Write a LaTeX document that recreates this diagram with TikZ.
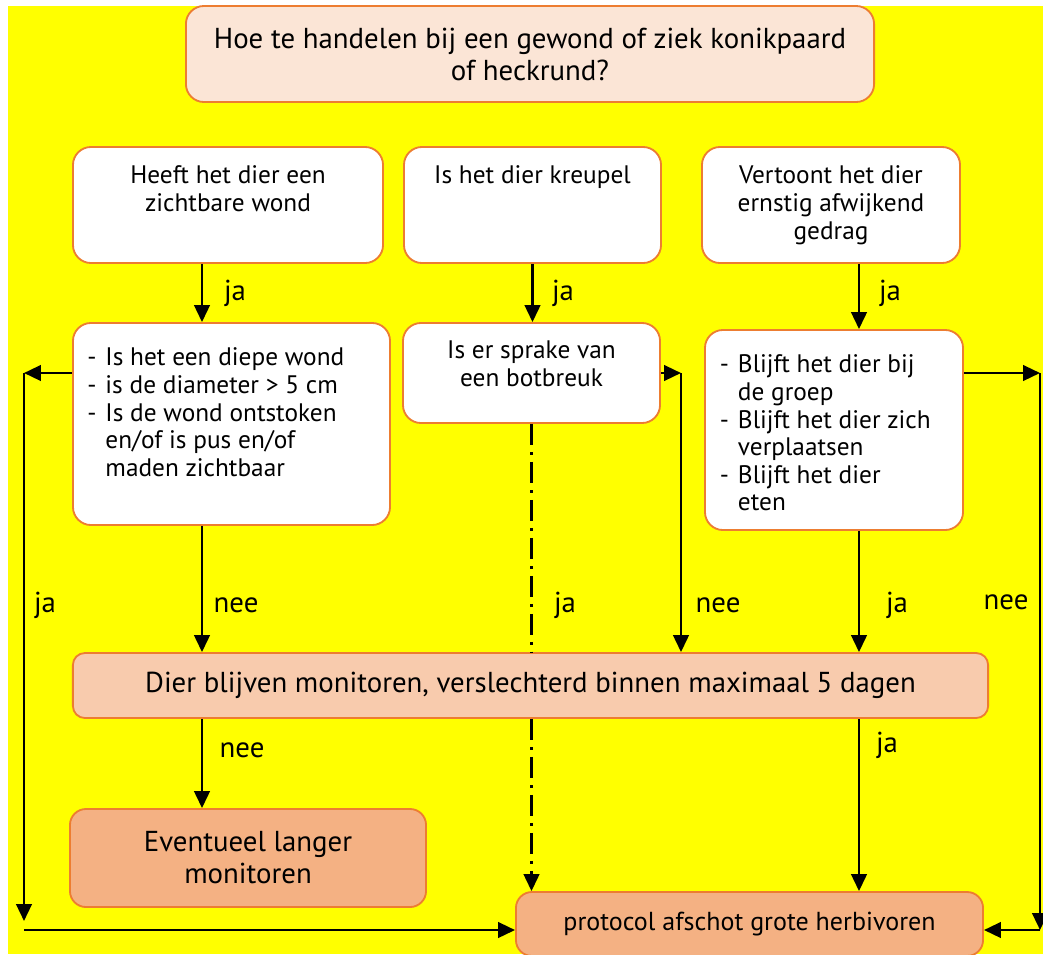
\documentclass[tikz,border=0pt]{standalone}
\usepackage{fontspec}
\setmainfont{PT Sans}
\usetikzlibrary{arrows.meta}
\definecolor{fcyellow}{RGB}{255,255,0}
\definecolor{fcorange}{RGB}{237,125,49}
\definecolor{fclight}{RGB}{251,229,214}
\definecolor{fcmid}{RGB}{248,203,173}
\definecolor{fcdark}{RGB}{244,177,131}
% tekst bovenaan in een vak
\newcommand{\toptext}[3]{\parbox[c][#1][t]{#2}{#3}}
\newcommand{\fcitem}[1]{\par\hangindent=0.45cm\noindent\makebox[0.45cm][l]{-}#1}

\tikzset{
  fcbox/.style={draw=fcorange, line width=1.3pt, rounded corners=0.45cm, inner sep=0pt},
  fcarrow/.style={line width=1.8pt, -{Triangle[length=12pt,width=11pt]}},
  fcdash/.style={line width=1.8pt, dash pattern=on 15pt off 5pt on 2pt off 5pt},
  fclabel/.style={font=\fontsize{20.5}{22}\selectfont},
  fcsmall/.style={font=\fontsize{18}{19.6}\selectfont},
  fcbig/.style={font=\fontsize{20.5}{22.8}\selectfont},
}

\begin{document}
\begin{tikzpicture}[x=0.025cm, y=-0.025cm]
  \useasboundingbox (0,0) rectangle (1043,954);
  \fill[white] (0,0) rectangle (1043,954);
  \fill[fcyellow] (8,6) rectangle (1043,954);

  % vragen
  \node[fcbox, fcbig, fill=fclight, align=center, minimum width=17.2cm, minimum height=2.4cm] (vraag) at (530,54)
    {Hoe te handelen bij een gewond of ziek konikpaard\\of heckrund?};
  \node[fcbox, fcsmall, fill=white, minimum width=7.75cm, minimum height=2.9cm] (wond) at (228,205)
    {\toptext{1.95cm}{7.4cm}{\centering Heeft het dier een\\zichtbare wond}};
  \node[fcbox, fcsmall, fill=white, minimum width=6.425cm, minimum height=2.9cm] (kreupel) at (532.5,205)
    {\toptext{1.95cm}{6.1cm}{\centering Is het dier kreupel}};
  \node[fcbox, fcsmall, fill=white, minimum width=6.45cm, minimum height=2.9cm] (gedrag) at (831,205)
    {\toptext{1.95cm}{6.1cm}{\centering Vertoont het dier\\ernstig afwijkend\\gedrag}};

  \node[fcbox, fcsmall, fill=white, minimum width=7.925cm, minimum height=5.05cm] (diep) at (231.5,424)
    {\toptext{3.8cm}{7.2cm}{\raggedright
      \fcitem{Is het een diepe wond}
      \fcitem{is de diameter > 5 cm}
      \fcitem{Is de wond ontstoken\newline en/of is pus en/of\newline maden zichtbaar}}};
  \node[fcbox, fcsmall, fill=white, minimum width=6.425cm, minimum height=2.5cm] (botbreuk) at (531.5,373)
    {\toptext{1.6cm}{6.1cm}{\centering Is er sprake van\\een botbreuk}};
  \node[fcbox, fcsmall, fill=white, minimum width=6.45cm, minimum height=5cm] (groep) at (834,430)
    {\toptext{3.75cm}{5.7cm}{\raggedright
      \fcitem{Blijft het dier bij\newline de groep}
      \fcitem{Blijft het dier zich\newline verplaatsen}
      \fcitem{Blijft het dier\newline eten}}};

  % uitkomsten
  \node[fcbox, fcbig, fill=fcmid, rounded corners=0.3cm, minimum width=22.875cm, minimum height=1.625cm] (monitor) at (530.5,685.5)
    {Dier blijven monitoren, verslechterd binnen maximaal 5 dagen};
  \node[fcbox, fcbig, fill=fcdark, align=center, rounded corners=0.4cm, minimum width=8.9cm, minimum height=2.45cm] (langer) at (248,858)
    {Eventueel langer\\monitoren};
  \node[fcbox, font=\fontsize{18.5}{20}\selectfont, fill=fcdark, rounded corners=0.4cm, minimum width=11.675cm, minimum height=1.6cm] (afschot) at (749.5,924)
    {protocol afschot grote herbivoren};

  % hulppunten
  \coordinate (k1) at (202,0);
  \coordinate (k3) at (859,0);
  \coordinate (links) at (24,373);
  \coordinate (linksonder) at (24,921);
  \coordinate (mid) at (681,373);
  \coordinate (rechts) at (1040,373);
  \coordinate (onder) at (0,930);

  % pijlen
  \draw[fcarrow] (wond.south -| k1) -- (diep.north -| k1);
  \draw[fcarrow] (kreupel.south) -- (botbreuk.north -| kreupel.south);
  \draw[fcarrow] (gedrag.south -| k3) -- (groep.north -| k3);
  \draw[fcarrow] (diep.south -| k1) -- (monitor.north -| k1);
  \draw[fcarrow] (groep.south -| k3) -- (monitor.north -| k3);
  \draw[fcarrow] (botbreuk.east |- mid) -- (mid);
  \draw[fcarrow] (mid) -- (monitor.north -| mid);
  \draw[fcdash] (botbreuk.south) -- (monitor.north -| botbreuk.south);
  \draw[fcdash, -{Triangle[length=12pt,width=11pt]}] (monitor.south -| botbreuk.south) -- (afschot.north -| botbreuk.south);
  \draw[fcarrow] (monitor.south -| k1) -- (langer.north -| k1);
  \draw[fcarrow] (monitor.south -| k3) -- (afschot.north -| k3);
  \draw[fcarrow] (diep.west |- links) -- (links);
  \draw[fcarrow] (links) -- (linksonder);
  \draw[fcarrow] (onder -| links) -- (afschot.west |- onder);
  \draw[fcarrow] (groep.east |- rechts) -- (rechts);
  \draw[fcarrow] (rechts) -- (rechts |- onder);
  \draw[fcarrow] (rechts |- onder) -- (afschot.east |- onder);

  % ja / nee
  \node[fclabel] (ja1) at (235,293) {ja};
  \node[fclabel] (ja2) at (563,293) {ja};
  \node[fclabel] (ja3) at (890,293) {ja};
  \node[fclabel] (ja4) at (45,605) {ja};
  \node[fclabel] (nee1) at (236,605) {nee};
  \node[fclabel] (ja5) at (565,605) {ja};
  \node[fclabel] (nee2) at (718,605) {nee};
  \node[fclabel] (ja6) at (897,605) {ja};
  \node[fclabel] (nee3) at (1006,602) {nee};
  \node[fclabel] (nee4) at (242,750) {nee};
  \node[fclabel] (ja7) at (887,745) {ja};
\end{tikzpicture}
\end{document}
